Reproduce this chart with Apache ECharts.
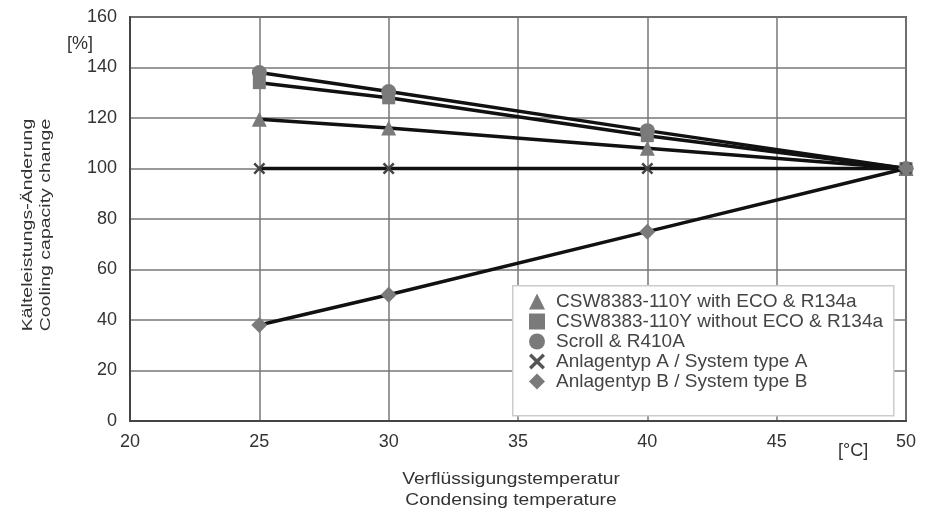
<!DOCTYPE html>
<html><head><meta charset="utf-8">
<script src="https://cdn.jsdelivr.net/npm/echarts@6/dist/echarts.min.js"></script>
<style>html,body{margin:0;padding:0;background:#fff}#c{width:939px;height:532px}</style>
</head><body><div id="c"></div>
<script>
const temps = [25, 30, 40, 50];
const seriesNames = [
  'CSW8383-110Y with ECO & R134a',
  'CSW8383-110Y without ECO & R134a',
  'Scroll & R410A',
  'Anlagentyp A / System type A',
  'Anlagentyp B / System type B'
];
const withEco = [119.5, 116, 108, 100];
const withoutEco = [134, 128, 113, 100];
const scroll = [138, 130.5, 115, 100];
const systemA = [100, 100, 100, 100];
const systemB = [38, 50, 75, 100];
const xTicks = [20, 25, 30, 35, 40, 45, 50];
const yTicks = [0, 20, 40, 60, 80, 100, 120, 140, 160];
const yName = 'Kälteleistungs-Änderung\nCooling capacity change';
const xName = 'Verflüssigungstemperatur\nCondensing temperature';

const X_PATH = 'path://M0,1.5L1.5,0L5,3.5L8.5,0L10,1.5L6.5,5L10,8.5L8.5,10L5,6.5L1.5,10L0,8.5L3.5,5Z';
const symbols = ['triangle', 'rect', 'circle', X_PATH, 'diamond'];
const sizes = [15, 13, 15, 12, 16];
const values = [withEco, withoutEco, scroll, systemA, systemB];
const FONT = 'Liberation Sans, Arial, sans-serif';

const chart = echarts.init(document.getElementById('c'));
chart.setOption({
  animation: false,
  backgroundColor: '#fff',
  grid: {left: 130, right: 33, top: 17, bottom: 111, show: true, borderColor: '#555', borderWidth: 2},
  xAxis: {
    type: 'value', min: xTicks[0], max: xTicks[xTicks.length - 1], interval: 5,
    axisLine: {show: true, lineStyle: {color: '#444', width: 2}},
    axisTick: {show: false},
    splitLine: {show: true, lineStyle: {color: '#777', width: 1.5}},
    axisLabel: {color: '#333', fontSize: 18, fontFamily: FONT, margin: 12}
  },
  yAxis: {
    type: 'value', min: yTicks[0], max: yTicks[yTicks.length - 1], interval: 20,
    axisLine: {show: true, lineStyle: {color: '#444', width: 2}},
    axisTick: {show: false},
    splitLine: {show: true, lineStyle: {color: '#777', width: 1.5}},
    axisLabel: {color: '#333', fontSize: 18, fontFamily: FONT, margin: 13}
  },
  legend: {
    orient: 'vertical', left: 529, top: 292, z: 20,
    padding: 0, itemGap: 1, itemWidth: 16, itemHeight: 16,
    textStyle: {color: '#444', fontSize: 19, fontFamily: FONT, padding: [0, 0, 0, 6]},
    data: seriesNames.map((n, i) => ({name: n, icon: symbols[i], itemStyle: {color: i === 3 ? '#555' : '#7a7a7a'}}))
  },
  graphic: [
    {type: 'rect', left: 512, top: 285, z: 10, shape: {width: 381, height: 130},
     style: {fill: '#fff', stroke: '#ccc', lineWidth: 1.5}},
    {type: 'text', left: 67, top: 35, style: {text: '[%]', fill: '#333', font: '18px ' + FONT}},
    {type: 'text', left: 838, top: 442, style: {text: '[°C]', fill: '#333', font: '18px ' + FONT}},
    {type: 'text', x: 37, y: 225, rotation: Math.PI / 2, scaleX: 1.3,
     style: {text: yName, fill: '#333', font: '15px ' + FONT, lineHeight: 18, align: 'center', verticalAlign: 'middle'}},
    {type: 'text', x: 511, y: 490, scaleX: 1.2,
     style: {text: xName, fill: '#333', font: '16px ' + FONT, lineHeight: 21, align: 'center', verticalAlign: 'middle'}}
  ],
  series: values.map((v, i) => ({
    name: seriesNames[i], type: 'line',
    data: temps.map((t, j) => [t, v[j]]),
    symbol: symbols[i], symbolSize: sizes[i],
    lineStyle: {color: '#111', width: 3.5},
    itemStyle: {color: i === 3 ? '#444' : '#7a7a7a'},
    z: 2 + i
  }))
});
</script></body></html>
